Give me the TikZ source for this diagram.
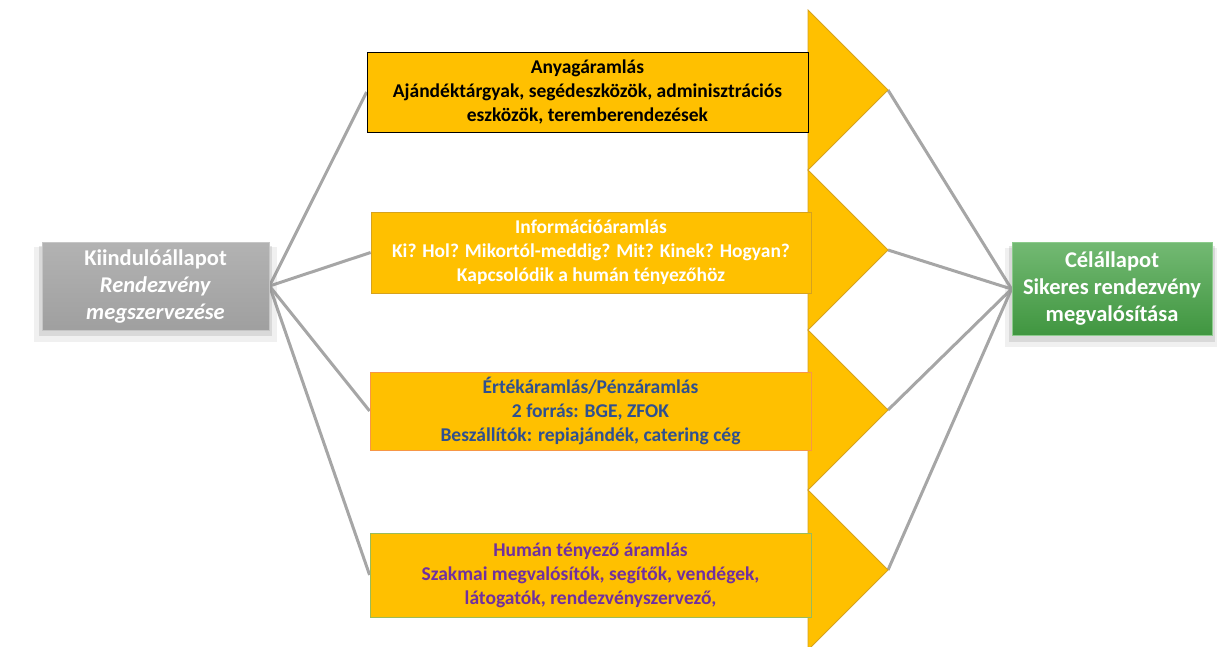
\documentclass[tikz,border=0pt]{standalone}
\usepackage{fontspec}
\setmainfont{Carlito}
\usetikzlibrary{shadows,backgrounds,positioning}
\definecolor{flowyellow}{HTML}{FFC000}
\definecolor{tripedge}{HTML}{D6A21E}
\definecolor{linkgray}{HTML}{A6A6A6}
\definecolor{valueblue}{HTML}{2F5090}
\definecolor{humanpurple}{HTML}{7030A0}
\definecolor{valueedge}{HTML}{F79646}
\definecolor{humanedge}{HTML}{9BBB59}
\tikzset{
	flowbox/.style={fill=flowyellow, line width=0.8pt, minimum width=441pt, minimum height=80pt,
		inner sep=0pt, align=center, font=\bfseries\fontsize{19.5}{24}\selectfont},
	statebox/.style={line width=1pt, text=white, inner sep=0pt, align=center,
		font=\bfseries\fontsize{22.5}{27}\selectfont,
		drop shadow={shadow xshift=0pt, shadow yshift=-8pt, opacity=0.12, shadow scale=1.07},
		drop shadow={shadow xshift=0pt, shadow yshift=-5pt, opacity=0.2, shadow scale=1.03}},
	link/.style={draw=linkgray, line width=3pt},
	tripart/.style={fill=flowyellow, draw=tripedge, line width=0.8pt}
}
\begin{document}
\begin{tikzpicture}[x=1pt, y=-1pt]
		\useasboundingbox (0,0) rectangle (1217,647);
		\foreach \i in {0,...,3} {
			\draw[tripart] (808,10+160*\i) -- (888,90+160*\i) -- (808,170+160*\i) -- cycle;
			\coordinate (tip\i) at (888,90+160*\i);
		}
		\node[flowbox, draw=black, text=black] (anyag) at (587.5,92)
			{Anyagáramlás\\Ajándéktárgyak, segédeszközök, adminisztrációs\\eszközök, teremberendezések};
		\node[flowbox, draw=tripedge, text=white, minimum width=440pt, minimum height=81pt] (info) at (591,252.5)
			{Információáramlás\\Ki? Hol? Mikortól-meddig? Mit? Kinek? Hogyan?\\Kapcsolódik a humán tényezőhöz};
		\node[flowbox, draw=valueedge, text=valueblue, minimum height=78pt] (ertek) at (590.5,411)
			{Értékáramlás/Pénzáramlás\\2 forrás: BGE, ZFOK\\Beszállítók: repiajándék, catering cég};
		\node[flowbox, draw=humanedge, text=humanpurple, minimum height=84pt] (human) at (590.5,575)
			{Humán tényező áramlás\\Szakmai megvalósítók, segítők, vendégek,\\látogatók, rendezvényszervező,};
		\node[statebox, draw=gray!45, top color=gray!60, bottom color=gray!75,
			minimum width=227pt, minimum height=88pt] (start) at (155.5,286)
			{Kiindulóállapot\\\textit{Rendezvény}\\\textit{megszervezése}};
		\node[statebox, draw=green!55!black!45, top color=green!50!black!55!white, bottom color=green!45!black!75!white,
			minimum width=200pt, minimum height=93pt] (goal) at (1112,289)
			{Célállapot\\Sikeres rendezvény\\megvalósítása};
		\begin{scope}[on background layer]
			\foreach \b in {anyag, info, ertek, human}
			\draw[link] (start.east) -- (\b.west);
			\foreach \i in {0,...,3}
			\draw[link] (tip\i) -- (goal.west);
		\end{scope}
	\end{tikzpicture}
\end{document}
